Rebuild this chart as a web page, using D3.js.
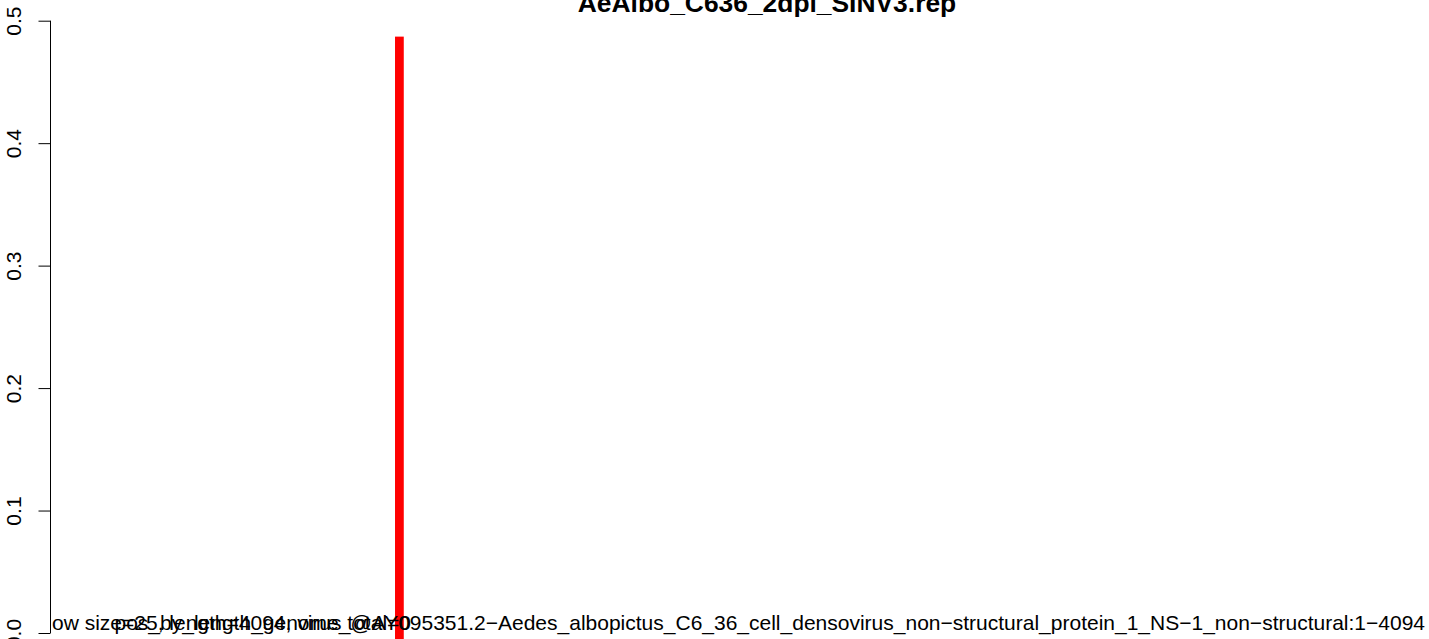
<!DOCTYPE html>
<html><head><meta charset="utf-8">
<script src="https://cdn.jsdelivr.net/npm/d3@7"></script>
<style>body{margin:0;background:#fff}svg{display:block}text{font-family:"Liberation Sans",Arial,sans-serif}</style>
</head><body>
<script>
const title = "AeAlbo_C636_2dpi_SINV3.rep";
const yTicks = [0, 0.1, 0.2, 0.3, 0.4, 0.5];
const windowSize = 25;
const genomeLength = 4094;
const barStarts = [985];
const barValues = [0.487];
const label1 = "ow size=25, length=4094, virus total=0";
const label2 = "pos_by_length_genome_@AY095351.2\u2212Aedes_albopictus_C6_36_cell_densovirus_non\u2212structural_protein_1_NS\u22121_non\u2212structural:1\u22124094";

const W = 1429, H = 639;
const svg = d3.select("body").append("svg").attr("width", W).attr("height", H);
const y = d3.scaleLinear().domain([0, 0.5]).range([633, 20.7]);
const x = d3.scaleLinear().domain([0, genomeLength]).range([50, 1484]);

svg.selectAll("rect.bar").data(barStarts).enter().append("rect")
  .attr("class", "bar")
  .attr("x", d => x(d))
  .attr("width", d => x(d + windowSize) - x(d))
  .attr("y", (d, i) => y(barValues[i]))
  .attr("height", (d, i) => H - y(barValues[i]))
  .attr("fill", "#ff0000");

const ax = svg.append("g").attr("transform", "translate(50,0)")
  .call(d3.axisLeft(y).tickValues(yTicks).tickSize(12).tickFormat(d3.format(".1f")));
ax.select(".domain").attr("d", `M0.5,${y(0)}V${y(0.5)}`).attr("stroke", "#000").attr("stroke-width", 1);
ax.selectAll(".tick line").attr("stroke", "#000").attr("transform", "translate(0.5,0)");
ax.selectAll(".tick text")
  .attr("font-size", 21).attr("fill", "#000")
  .attr("transform", "rotate(-90)")
  .attr("x", 0).attr("y", -29.5).attr("dy", 0)
  .attr("text-anchor", "middle");

svg.append("text").attr("x", 767).attr("y", 12).attr("text-anchor", "middle")
  .attr("font-size", 26.4).attr("font-weight", "bold").text(title);

svg.append("text").attr("x", 52).attr("y", 630).attr("font-size", 21).text(label1);
svg.append("text").attr("x", 1425).attr("y", 630).attr("text-anchor", "end").attr("font-size", 21).text(label2);
</script>
</body></html>
